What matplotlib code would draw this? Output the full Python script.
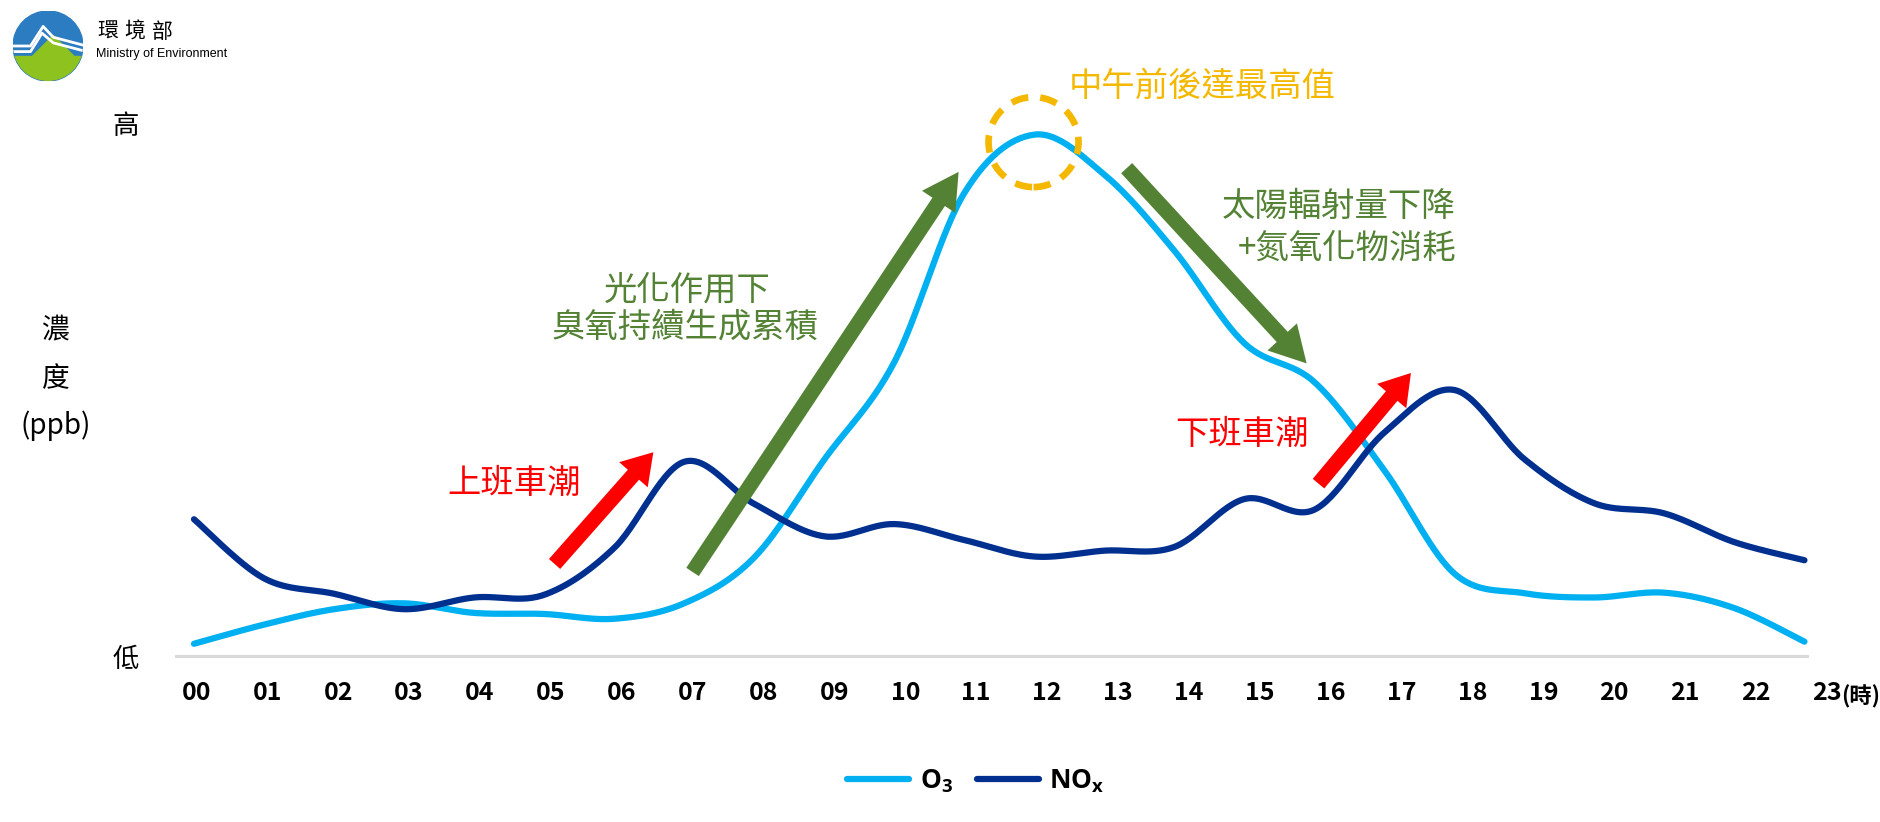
"""Daily O3 / NOx concentration pattern (環境部 infographic)."""

import matplotlib
matplotlib.use("Agg")  # headless
import matplotlib.pyplot as plt
import numpy as np
from matplotlib.lines import Line2D
from matplotlib.patches import Circle, FancyArrow, Polygon
from matplotlib.transforms import IdentityTransform

plt.rcParams["font.family"] = ["Noto Sans CJK TC", "DejaVu Sans"]
plt.rcParams["mathtext.fontset"] = "custom"
plt.rcParams["mathtext.bf"] = "Open Sans:bold"
plt.rcParams["mathtext.rm"] = "Open Sans:bold"
plt.rcParams["mathtext.default"] = "bf"

# --- data (relative concentration, 0 = 低, 100 = 高) ---
hours = list(range(24))
hour_labels = [f"{h:02d}" for h in hours]
o3 = [2.3, 5.9, 8.8, 9.9, 8.1, 7.9, 7.0, 9.9, 18.5, 36.9, 55.2, 87.0,
      98.0, 90.5, 76.2, 58.8, 51.5, 34.9, 15.5, 11.8, 11.0, 11.9, 9.0, 2.7]
nox = [25.7, 14.6, 11.7, 8.8, 11.0, 11.5, 20.3, 36.5, 28.6, 22.5, 24.8, 21.8,
       18.7, 19.8, 20.5, 29.5, 27.5, 42.0, 50.0, 37.0, 28.7, 26.8, 21.4, 18.0]

O3_COLOR = "#00B0F0"
NOX_COLOR = "#00308F"
GREEN = "#548235"
RED = "#FF0000"
GOLD = "#F5B800"


def smooth(xs, ys, n=30):
    """Catmull-Rom through the points, like Excel's smoothed line."""
    p = np.column_stack([xs, ys]).astype(float)
    p = np.vstack([p[0], p, p[-1]])
    t = np.linspace(0, 1, n, endpoint=False)[:, None]
    segs = []
    for i in range(1, len(p) - 2):
        p0, p1, p2, p3 = p[i - 1], p[i], p[i + 1], p[i + 2]
        segs.append(0.5 * (2 * p1 + (-p0 + p2) * t
                           + (2 * p0 - 5 * p1 + 4 * p2 - p3) * t ** 2
                           + (-p0 + 3 * p1 - 3 * p2 + p3) * t ** 3))
    segs.append(p[-2][None, :])
    out = np.vstack(segs)
    return out[:, 0], out[:, 1]


W, H = 1880, 822
fig = plt.figure(figsize=(W / 100, H / 100), dpi=100)


def fx(px):
    return px / W


def fy(py):
    return 1 - py / H


X_LO, X_HI, X_AXIS_END = -0.257, 23.4, 23.03
ax = fig.add_axes([fx(176), fy(656), fx(70.02 * (X_HI - X_LO)), 532 / H])

ax.plot(*smooth(hours, o3), color=O3_COLOR, lw=4.5, solid_capstyle="round")
ax.plot(*smooth(hours, nox), color=NOX_COLOR, lw=4.5, solid_capstyle="round")

for side in ["top", "right", "left"]:
    ax.spines[side].set_visible(False)
ax.spines["bottom"].set_color("#D9D9D9")
ax.spines["bottom"].set_linewidth(2.2)
ax.spines["bottom"].set_bounds(X_LO, X_AXIS_END)

# hour labels sit a touch wider apart than the points in the original
ax.set_xticks([0.034 + 1.0125 * h for h in hours])
ax.set_xticklabels(hour_labels, fontweight="bold", fontsize=18)
ax.tick_params(axis="x", length=0, pad=18)
ax.set_yticks([0, 100])
ax.set_yticklabels(["低", "高"], fontsize=19)
ax.tick_params(axis="y", length=0, pad=27)
# limits after the ticks, otherwise set_xticks widens them
ax.set_xlim(X_LO, X_HI)
ax.set_ylim(0, 100)

fig.text(fx(1880), fy(697), "(時)", ha="right", va="center", fontsize=16,
         fontweight="bold")

# y label
fig.text(fx(56), fy(330), "濃", ha="center", va="center", fontsize=20)
fig.text(fx(56), fy(379), "度", ha="center", va="center", fontsize=20)
fig.text(fx(56), fy(426), "(ppb)", ha="center", va="center", fontsize=20)

# --- annotations ---
ax.text(14.40, 107.0, "中午前後達最高值", color=GOLD, fontsize=24,
        ha="center", va="center")
ax.text(7.04, 68.7, "光化作用下", color=GREEN, fontsize=24, ha="center", va="center")
ax.text(7.02, 61.9, "臭氧持續生成累積", color=GREEN, fontsize=24, ha="center", va="center")
ax.text(16.35, 84.5, "太陽輻射量下降", color=GREEN, fontsize=24, ha="center", va="center")
ax.text(16.47, 76.6, "+氮氧化物消耗", color=GREEN, fontsize=24, ha="center", va="center")
ax.text(4.57, 32.4, "上班車潮", color=RED, fontsize=24, ha="center", va="center")
ax.text(14.97, 41.7, "下班車潮", color=RED, fontsize=24, ha="center", va="center")


def arrow(tail, tip, color, shaft=15, head_w=40, head_l=36):
    (x0, y0), (x1, y1) = ax.transData.transform([tail, tip])
    fig.add_artist(FancyArrow(x0, y0, x1 - x0, y1 - y0, width=shaft,
                              head_width=head_w, head_length=head_l,
                              length_includes_head=True, color=color, lw=0,
                              transform=IdentityTransform()))


arrow((7.12, 15.8), (10.92, 91.0), GREEN)
arrow((13.32, 91.7), (15.89, 55.0), GREEN)
arrow((5.15, 17.3), (6.56, 38.3), RED, head_w=38, head_l=30)
arrow((16.06, 32.4), (17.38, 53.2), RED, head_w=38, head_l=30)

cx, cy = ax.transData.transform((11.99, 96.6))
fig.add_artist(Circle((cx, cy), 45, fill=False, ec=GOLD, lw=4.8,
                      ls=(0, (2.6, 1.8)), transform=IdentityTransform()))

# --- legend ---
handles = [Line2D([], [], color=O3_COLOR, lw=4.5, solid_capstyle="round"),
           Line2D([], [], color=NOX_COLOR, lw=4.5, solid_capstyle="round")]
fig.legend(handles, ["O$_3$", "NO$_x$"], loc="center",
           bbox_to_anchor=(fx(976), fy(781)), ncol=2, frameon=False,
           prop={"family": "Open Sans", "weight": "bold", "size": 19},
           handlelength=2.35, handletextpad=0.4, columnspacing=0.9)

# --- logo ---
lax = fig.add_axes([fx(13), fy(81), fx(70), 70 / H])
lax.set_xlim(-1, 1)
lax.set_ylim(-1, 1)
lax.set_aspect("equal")
lax.axis("off")
disc = Circle((0, 0), 1, color="#2B7CC1")
lax.add_patch(disc)
mountain = Polygon([(-1.1, -0.3), (-0.45, -0.3), (0.15, 0.3), (0.75, -0.3),
                    (1.1, -0.3), (1.1, -1.1), (-1.1, -1.1)], color="#8DC21F")
lax.add_patch(mountain)
mountain.set_clip_path(disc)
for off in (0.14, 0.3):
    ln, = lax.plot([-1.1, -0.5, -0.2 + off * 0.2, 0.15, 1.1],
                   [-0.3 + off, -0.3 + off, 0.2 + off * 1.2, -0.05 + off, -0.3 + off],
                   color="white", lw=2)
    ln.set_clip_path(disc)
for i, ch in enumerate("環境部"):
    fig.text(fx(108 + 27 * i), fy(32), ch, ha="center", va="center", fontsize=15)
fig.text(fx(96), fy(54), "Ministry of Environment", ha="left", va="center",
         fontsize=9, family="Liberation Sans")

fig.savefig("out.png", dpi=100)
